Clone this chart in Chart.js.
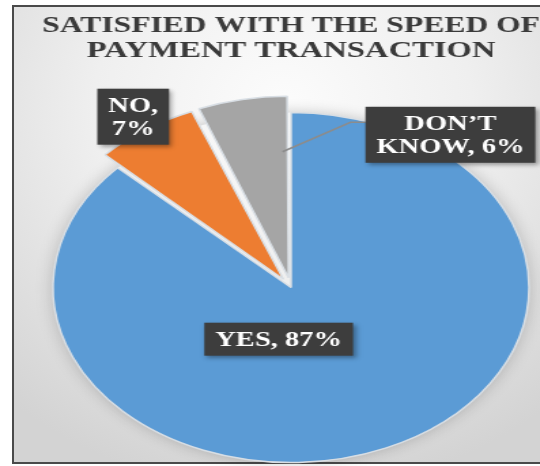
<!DOCTYPE html>
<html>
<head>
<meta charset="utf-8">
<script src="https://cdn.jsdelivr.net/npm/chart.js@4.4.0/dist/chart.umd.min.js"></script>
<style>
  html, body { margin: 0; padding: 0; width: 540px; height: 466px; overflow: hidden; background: #fff; }
  #frame {
    position: absolute; left: 12px; top: 5px; width: 560px; height: 455px;
    border: 2px solid #4a4a4a;
    background: radial-gradient(ellipse 75% 85% at 48% 22%, #fcfcfc 0%, #efefef 45%, #d3d3d3 100%);
  }
  #stage {
    position: absolute; left: 0; top: 0; width: 397px; height: 466px;
    transform: scaleX(1.36); transform-origin: 0 0;
  }
</style>
</head>
<body>
<div id="frame"></div>
<div id="stage"><canvas id="speed-chart" width="397" height="466"></canvas></div>
<script>
var categories = ['YES', 'NO', 'DON\u2019T KNOW'];
var shares = [87, 7, 6];
var sliceColors = ['#5B9BD5', '#ED7D31', '#A5A5A5'];
var titleLines = ['SATISFIED WITH THE SPEED OF', 'PAYMENT TRANSACTION'];

// label spot: angle clockwise from 12 o'clock (null = middle of slice), distance in radii
var labelSpots = [
  { angle: 190, dist: 0.30, wrap: 200 },
  { angle: null, dist: 1.18, wrap: 50 },
  { angle: 37.5, dist: 1.10, wrap: 130, leader: { angle: 358, dist: 0.72 } }
];

var SERIF = '"Liberation Serif", "Times New Roman", serif';
var LABEL_FONT = 'bold 21px ' + SERIF;

function wrapWords(ctx, text, maxWidth) {
  var words = text.split(' ');
  var lines = [];
  var cur = '';
  words.forEach(function(w) {
    var test = cur ? cur + ' ' + w : w;
    if (cur && ctx.measureText(test).width > maxWidth) {
      lines.push(cur);
      cur = w;
    } else {
      cur = test;
    }
  });
  if (cur) lines.push(cur);
  return lines;
}

function toRad(deg) {
  return (deg - 90) * Math.PI / 180;
}

// soft halo outside the pie edge
var pieHalo = {
  id: 'pieHalo',
  beforeDatasetsDraw: function(chart) {
    var ctx = chart.ctx;
    var arc = chart.getDatasetMeta(0).data[0];
    if (!arc) return;
    var far = 3000;
    ctx.save();
    ctx.beginPath();
    ctx.rect(0, 0, chart.width, chart.height);
    ctx.arc(arc.x, arc.y, arc.outerRadius, 0, Math.PI * 2);
    ctx.clip('evenodd');
    ctx.shadowColor = 'rgba(0,0,0,0.22)';
    ctx.shadowBlur = 14;
    ctx.shadowOffsetX = far;
    ctx.beginPath();
    ctx.arc(arc.x - far, arc.y, arc.outerRadius, 0, Math.PI * 2);
    ctx.fillStyle = '#000';
    ctx.fill();
    ctx.restore();
  }
};

var boxLabels = {
  id: 'boxLabels',
  afterDatasetsDraw: function(chart) {
    var ctx = chart.ctx;
    var meta = chart.getDatasetMeta(0);
    ctx.save();
    ctx.font = LABEL_FONT;
    meta.data.forEach(function(arc, i) {
      var spot = labelSpots[i];
      var r = arc.outerRadius;
      var a = spot.angle === null ? (arc.startAngle + arc.endAngle) / 2 : toRad(spot.angle);
      var cx = arc.x + Math.cos(a) * r * spot.dist;
      var cy = arc.y + Math.sin(a) * r * spot.dist;
      var lines = wrapWords(ctx, categories[i] + ', ' + shares[i] + '%', spot.wrap);
      var lh = 23, padX = 8, padY = 5;
      var tw = 0;
      lines.forEach(function(l) { tw = Math.max(tw, ctx.measureText(l).width); });
      var w = tw + padX * 2;
      var h = lines.length * lh + padY * 2;
      var left = cx - w / 2, top = cy - h / 2;

      if (spot.leader) {
        var off = (arc.options.offset || 0) / 4;
        var mid = (arc.startAngle + arc.endAngle) / 2;
        var la = toRad(spot.leader.angle);
        var sx = arc.x + Math.cos(mid) * off + Math.cos(la) * r * spot.leader.dist;
        var sy = arc.y + Math.sin(mid) * off + Math.sin(la) * r * spot.leader.dist;
        ctx.beginPath();
        ctx.moveTo(sx, sy);
        ctx.lineTo(left - 11, top + 15.5);
        ctx.lineTo(left, top + 15.5);
        ctx.strokeStyle = '#8c8c8c';
        ctx.lineWidth = 1.5;
        ctx.stroke();
      }

      ctx.shadowColor = 'rgba(0,0,0,0.35)';
      ctx.shadowBlur = 4;
      ctx.shadowOffsetX = 2;
      ctx.shadowOffsetY = 2;
      ctx.fillStyle = '#3d3d3d';
      ctx.fillRect(left, top, w, h);
      ctx.shadowColor = 'transparent';

      ctx.fillStyle = '#ffffff';
      ctx.textAlign = 'center';
      ctx.textBaseline = 'middle';
      lines.forEach(function(l, k) {
        ctx.fillText(l, cx, top + padY + lh * (k + 0.5) + 1);
      });
    });
    ctx.restore();
  }
};

var speedChart = {
  type: 'pie',
  data: {
    labels: categories,
    datasets: [{
      data: shares,
      backgroundColor: sliceColors,
      borderColor: '#d8dee4',
      borderWidth: 1.5,
      offset: [0, 40, 40],
      radius: 175
    }]
  },
  options: {
    responsive: false,
    animation: false,
    layout: { padding: { left: 31, right: 0, top: 6, bottom: 0 } },
    plugins: {
      legend: { display: false },
      tooltip: { enabled: false },
      title: {
        display: true,
        text: titleLines,
        color: '#3a3a3a',
        font: { family: SERIF, size: 24, weight: 'bold', lineHeight: 1.05 },
        padding: { top: 7, bottom: 45.6 }
      }
    }
  },
  plugins: [pieHalo, boxLabels]
};

window.onload = function() {
  var ctx = document.getElementById('speed-chart').getContext('2d');
  window.myPie = new Chart(ctx, speedChart);
};
</script>
</body>
</html>
